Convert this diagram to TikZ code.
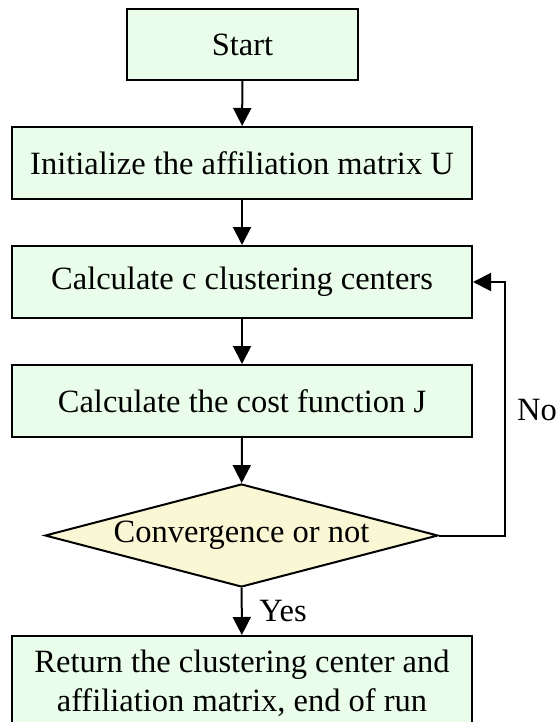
\documentclass[tikz,border=0pt]{standalone}
\usepackage{fontspec}
\setmainfont{Liberation Serif}
\usetikzlibrary{shapes.geometric,arrows.meta}
\definecolor{boxgreen}{RGB}{234,253,234}
\definecolor{diayellow}{RGB}{250,247,212}
\begin{document}
\begin{tikzpicture}[x=1pt,y=1pt,
  font=\fontsize{32.5}{38.5}\selectfont,
  box/.style={draw, line width=2pt, fill=boxgreen, minimum height=72pt, inner sep=0pt, align=center},
  decision/.style={draw, diamond, line width=2pt, fill=diayellow, aspect=3.8, inner sep=0pt},
  conn/.style={line width=2pt, -{Triangle[length=18pt,width=18pt]}},
  lbl/.style={inner sep=0pt}]
\useasboundingbox (0,0) rectangle (558,-722);
\clip (0,0) rectangle (558,-722);
\node[box, minimum width=231pt, minimum height=71pt] (start) at (242.5,-44.5) {Start};
\node[box, minimum width=460pt] (init) at (242,-163) {Initialize the affiliation matrix U};
\node[box, minimum width=460pt] (calc) at (242,-282) {Calculate c clustering centers};
\node[box, minimum width=460pt] (cost) at (242,-401) {Calculate the cost function J};
\node[decision, minimum width=393pt, minimum height=103pt] (dec) at (241.5,-535.5) {Convergence or not};
\node[box, minimum width=460pt, minimum height=94pt] (final) at (242,-683) {Return the clustering center and\\affiliation matrix, end of run};
\coordinate (loop) at (505,-535.5);
\draw[conn] (start) -- (init);
\draw[conn] (init) -- (calc);
\draw[conn] (calc) -- (cost);
\draw[conn] (cost) -- (dec);
\draw[conn] (dec) -- (final);
\draw[conn] (dec.east) -- (loop) |- (calc.east);
\node[lbl] (no) at (537,-410) {No};
\node[lbl] (yes) at (283,-611) {Yes};
\end{tikzpicture}
\end{document}
